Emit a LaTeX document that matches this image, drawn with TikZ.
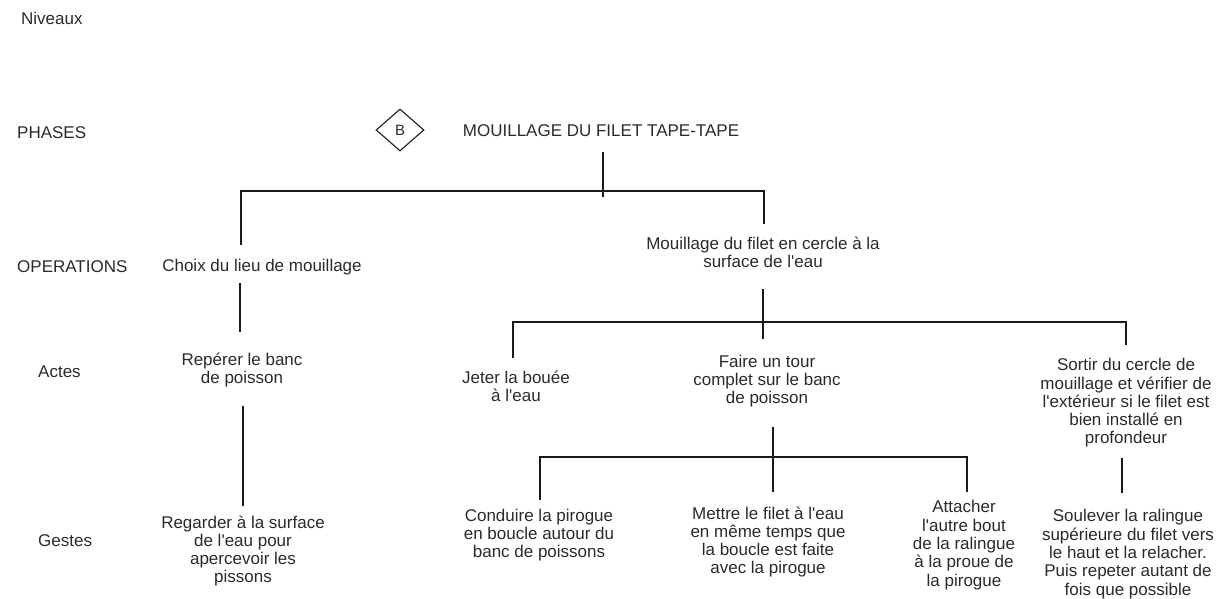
\documentclass[tikz,border=0pt]{standalone}
\usepackage{fontspec}
\setmainfont{Liberation Sans}[Ligatures=TeXOff]
\usetikzlibrary{shapes.geometric}
\definecolor{txt}{HTML}{2A2A2A}
\definecolor{ln}{HTML}{1A1A1A}
\begin{document}
\begin{tikzpicture}[x=1pt,y=-1pt,
  lbl/.style={text=txt,font=\fontsize{17}{18.3}\selectfont,inner sep=0pt,align=center},
  lvl/.style={lbl,anchor=west},
  conn/.style={draw=ln,line width=1.2pt}]
\useasboundingbox (0,0) rectangle (1226,599);
% levels
\node[lvl] (niv) at (21,18) {Niveaux};
\node[lvl] (pha) at (17,133) {PHASES};
\node[lvl] (ope) at (17,267) {OPERATIONS};
\node[lvl] (act) at (38,372) {Actes};
\node[lvl] (ges) at (38,541) {Gestes};
% phase
\node[draw=ln,line width=1.1pt,diamond,minimum width=48pt,minimum height=42pt,inner sep=0pt,text=txt,font=\fontsize{15}{17}\selectfont] (dB) at (400,130) {B};
\node[lbl] (phase) at (601,131) {MOUILLAGE DU FILET TAPE-TAPE};
% operations
\node[lbl] (op1) at (262,267) {Choix du lieu de mouillage};
\node[lbl] (op2) at (763,252) {Mouillage du filet en cercle à la\\surface de l'eau};
% actes
\node[lbl] (a1) at (242,370) {Repérer le banc\\de poisson};
\node[lbl] (a2) at (516,386) {Jeter la bouée\\à l'eau};
\node[lbl] (a3) at (767,381) {Faire un tour\\complet sur le banc\\de poisson};
\node[lbl] (a4) at (1126,403) {Sortir du cercle de\\mouillage et vérifier de\\l'extérieur si le filet est\\bien installé en\\profondeur};
% gestes
\node[lbl] (g1) at (243,551) {Regarder à la surface\\de l'eau pour\\apercevoir les\\pissons};
\node[lbl] (g2) at (539,535) {Conduire la pirogue\\en boucle autour du\\banc de poissons};
\node[lbl] (g3) at (768,542) {Mettre le filet à l'eau\\en même temps que\\la boucle est faite\\avec la pirogue};
\node[lbl] (g4) at (964,545) {Attacher\\l'autre bout\\de la ralingue\\à la proue de\\la pirogue};
\node[lbl] (g5) at (1128,554) {Soulever la ralingue\\supérieure du filet vers\\le haut et la relacher.\\Puis repeter autant de\\fois que possible};
% connector coordinates
\coordinate (p0) at (603,152);
\coordinate (p1) at (603,197);
\coordinate (pb) at (603,191);
\coordinate (op1t) at (241,245);
\coordinate (op2t) at (764,224);
\coordinate (op1b) at (240,283);
\coordinate (a1t) at (240,332);
\coordinate (a1b) at (243,406);
\coordinate (g1t) at (243,506);
\coordinate (op2b) at (763,289);
\coordinate (op2x) at (763,339);
\coordinate (a2t) at (513,358);
\coordinate (a4t) at (1126,345);
\coordinate (a3b) at (773,427);
\coordinate (a3x) at (773,492);
\coordinate (g2t) at (540,500);
\coordinate (g4t) at (967,492);
\coordinate (a4b) at (1122,458);
\coordinate (g5t) at (1122,493);
% connectors
\draw[conn] (p0) -- (p1);
\draw[conn] (op1t) |- (pb) -| (op2t);
\draw[conn] (op1b) -- (a1t);
\draw[conn] (a1b) -- (g1t);
\draw[conn] (op2b) -- (op2x);
\draw[conn] (a2t) |- (763,322) -| (a4t);
\draw[conn] (a3b) -- (a3x);
\draw[conn] (g2t) |- (773,457) -| (g4t);
\draw[conn] (a4b) -- (g5t);
\end{tikzpicture}
\end{document}
